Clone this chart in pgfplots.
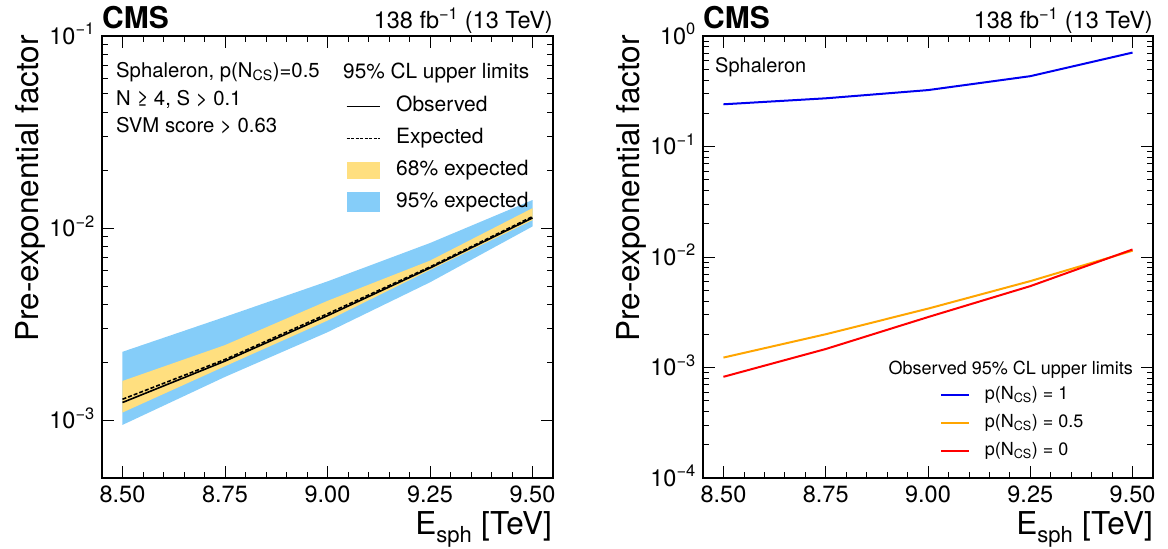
\documentclass[border=0pt]{standalone}
\usepackage{pgfplots}
\pgfplotsset{compat=1.18}
\usepackage{pgfplotstable}
\usepackage{fontspec}
\setmainfont{TeX Gyre Heros}
\definecolor{bandblue}{HTML}{85CDF9}
\definecolor{bandyellow}{HTML}{FFDF7F}
\definecolor{lblue}{HTML}{0000F0}
\definecolor{lorange}{HTML}{FFA500}
\definecolor{lred}{HTML}{FF0000}
\newcommand{\fs}[1]{\fontsize{#1}{#1}\selectfont}

\pgfplotstableread{
x     obs       exp
8.50  1.236e-3  1.285e-3
8.75  2.03e-3   2.07e-3
9.00  3.50e-3   3.58e-3
9.25  6.20e-3   6.28e-3
9.50  1.13e-2   1.148e-2
}\lefttab

\pgfplotstableread{
x     p1     p05      p0
8.50  0.241  1.23e-3  8.24e-4
8.75  0.273  2.00e-3  1.47e-3
9.00  0.324  3.41e-3  2.86e-3
9.25  0.433  6.05e-3  5.45e-3
9.50  0.708  1.14e-2  1.17e-2
}\righttab

\pgfplotsset{
  every axis/.append style={
    scale only axis,
    tick align=inside, major tick length=12pt, minor tick length=6pt,
    axis line style={line width=1.5pt},
    tick style={line width=0.8pt, black},
    legend cell align=left,
  },
}

\begin{document}
\begin{tikzpicture}
\path[use as bounding box] (0pt,0pt) rectangle (1168pt,549pt);

% ---------------- left panel ----------------
\begin{axis}[at={(102pt,71pt)}, anchor=south west,
  width=451pt, height=442pt,
  ymode=log, xmin=8.45, xmax=9.55, ymin=5e-4, ymax=1e-1,
  xtick={8.5,8.75,9,9.25,9.5}, xticklabels={8.50,8.75,9.00,9.25,9.50},
  minor x tick num=4,
  ytick={1e-3,1e-2,1e-1},
  yticklabels={10\textsuperscript{−3},10\textsuperscript{−2},10\textsuperscript{−1}},
  ticklabel style={font=\fs{23.5}},
  xticklabel style={inner sep=0pt, yshift=-8pt},
  yticklabel style={anchor=base east, inner sep=0pt, xshift=-7pt, yshift=-8pt},
  reverse legend,
  legend style={draw=none, fill=none, inner sep=0pt,
    at={(0.541,0.864)}, anchor=north west, font=\fs{21},
    nodes={inner sep=0pt, text height=15pt, text depth=4.5pt},
    row sep=12.5pt, column sep=16pt},
]
% 95% band: upper edge then lower edge reversed
\addplot[fill=bandblue, draw=none, area legend,
  legend image code/.code={\fill[bandblue] (0pt,-10pt) rectangle (33pt,10pt);}] coordinates {
  (8.50,2.27e-3) (8.75,3.45e-3) (9.00,5.28e-3) (9.25,8.36e-3) (9.50,1.40e-2)
  (9.50,1.02e-2) (9.25,5.22e-3) (9.00,2.87e-3) (8.75,1.68e-3) (8.50,9.45e-4)} -- cycle;
% 68% band
\addplot[fill=bandyellow, draw=none, area legend,
  legend image code/.code={\fill[bandyellow] (0pt,-8.5pt) rectangle (33pt,8.5pt);}] coordinates {
  (8.50,1.60e-3) (8.75,2.46e-3) (9.00,4.18e-3) (9.25,6.77e-3) (9.50,1.27e-2)
  (9.50,1.10e-2) (9.25,6.05e-3) (9.00,3.30e-3) (8.75,1.91e-3) (8.50,1.096e-3)} -- cycle;
\addplot[black, line width=1.6pt, dash pattern=on 4pt off 2pt,
  legend image code/.code={\draw[black, line width=1pt, dash pattern=on 3pt off 1.5pt] (0pt,0pt) -- (33pt,0pt);}] table[x=x,y=exp]{\lefttab};
\addplot[black, line width=1.6pt,
  legend image code/.code={\draw[black, line width=1pt] (0pt,0pt) -- (33pt,0pt);}] table[x=x,y=obs]{\lefttab};
\legend{95\% expected, 68\% expected, Expected, Observed}
\end{axis}

% ---------------- right panel ----------------
\begin{axis}[at={(703pt,71pt)}, anchor=south west,
  width=450pt, height=442pt,
  ymode=log, xmin=8.45, xmax=9.55, ymin=1e-4, ymax=1,
  xtick={8.5,8.75,9,9.25,9.5}, xticklabels={8.50,8.75,9.00,9.25,9.50},
  minor x tick num=4,
  ytick={1e-4,1e-3,1e-2,1e-1,1},
  yticklabels={10\textsuperscript{−4},10\textsuperscript{−3},10\textsuperscript{−2},10\textsuperscript{−1},10\textsuperscript{0}},
  ticklabel style={font=\fs{23.5}},
  xticklabel style={inner sep=0pt, yshift=-8pt},
  yticklabel style={anchor=base east, inner sep=0pt, xshift=-7pt, yshift=-8pt},
  legend style={draw=none, fill=none, inner sep=0pt,
    at={(0.527,0.208)}, anchor=north west, font=\fs{18},
    nodes={inner sep=0pt, text height=13pt, text depth=4pt},
    row sep=11pt, column sep=15pt},
]
\addplot[lblue, line width=2pt,
  legend image code/.code={\draw[lblue, line width=1.5pt] (0pt,0pt) -- (28pt,0pt);}] table[x=x,y=p1]{\righttab};
\addlegendentry{p(N\textsubscript{CS}) = 1}
\addplot[lorange, line width=2pt,
  legend image code/.code={\draw[lorange, line width=1.5pt] (0pt,0pt) -- (28pt,0pt);}] table[x=x,y=p05]{\righttab};
\addlegendentry{p(N\textsubscript{CS}) = 0.5}
\addplot[lred, line width=2pt,
  legend image code/.code={\draw[lred, line width=1.5pt] (0pt,0pt) -- (28pt,0pt);}] table[x=x,y=p0]{\righttab};
\addlegendentry{p(N\textsubscript{CS}) = 0}
\end{axis}

% ---------------- texts ----------------
\node[anchor=base west, inner sep=0pt, font=\fs{30}\bfseries] at (102pt,520pt) {CMS};
\node[anchor=base east, inner sep=0pt, font=\fs{23.5}] at (553pt,520pt) {138 fb\textsuperscript{−1} (13 TeV)};
\node[anchor=base west, inner sep=0pt, font=\fs{30}\bfseries] at (703pt,520pt) {CMS};
\node[anchor=base east, inner sep=0pt, font=\fs{23.5}] at (1153pt,520pt) {138 fb\textsuperscript{−1} (13 TeV)};

\node[anchor=base east, inner sep=0pt, font=\fs{31.5}] at (552pt,14pt) {E\textsubscript{sph} [TeV]};
\node[anchor=base east, inner sep=0pt, font=\fs{31.5}] at (1153pt,14pt) {E\textsubscript{sph} [TeV]};
\node[anchor=base east, inner sep=0pt, rotate=90, font=\fs{31.5}] at (38pt,514pt) {Pre-exponential factor};
\node[anchor=base east, inner sep=0pt, rotate=90, font=\fs{31.5}] at (639pt,514pt) {Pre-exponential factor};

\node[anchor=base west, inner sep=0pt, font=\fs{20.3}] at (116pt,471.5pt) {Sphaleron, p(N\textsubscript{CS})=0.5};
\node[anchor=base west, inner sep=0pt, font=\fs{20.3}] at (116pt,443.5pt) {N ≥ 4, S > 0.1};
\node[anchor=base west, inner sep=0pt, font=\fs{20.3}] at (116pt,416.5pt) {SVM score > 0.63};
\node[anchor=base west, inner sep=0pt, font=\fs{20.8}] at (343pt,470.5pt) {95\% CL upper limits};

\node[anchor=base west, inner sep=0pt, font=\fs{20}] at (715pt,476.5pt) {Sphaleron};
\node[anchor=base east, inner sep=0pt, font=\fs{18}] at (1133pt,174pt) {Observed 95\% CL upper limits};
\end{tikzpicture}
\end{document}
